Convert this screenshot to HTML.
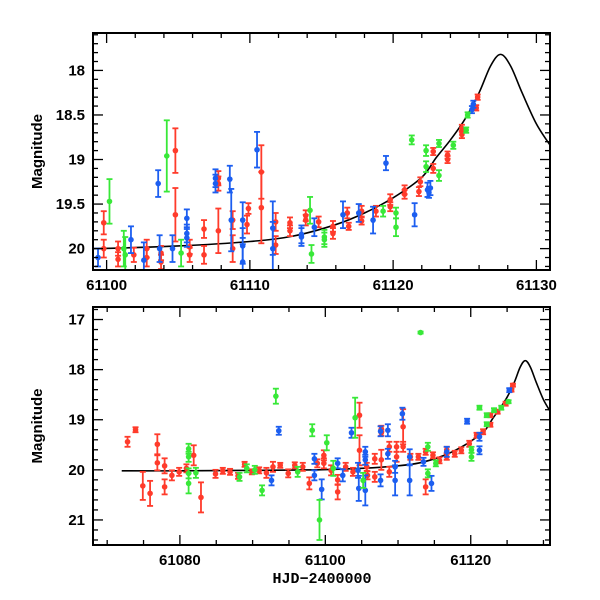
<!DOCTYPE html>
<html><head><meta charset="utf-8"><style>
html,body{margin:0;padding:0;background:#fff;}
svg{display:block;font-family:"Liberation Sans",sans-serif;}
</style></head><body>
<svg id="chart" width="600" height="600" viewBox="0 0 600 600" xmlns="http://www.w3.org/2000/svg"></svg>
<script>
// ---- data ----
const curveDays=[61072,61080,61090,61099,61105,61110,61113,61116,61118,61120,61122,61123,61124,61125,61126,61126.8,61127.5,61128.2,61129,61130,61131];
const curveMags=[20.02,20.02,20.01,20.0,19.97,19.92,19.86,19.73,19.6,19.43,19.2,18.98,18.78,18.55,18.25,17.95,17.82,17.95,18.25,18.6,18.85];

const topRed=[[61099.8,19.71,.13],[61099.8,20.0,.1],[61100.8,20.0,.08],[61100.8,20.12,.08],[61101.9,20.07,.08],[61102.8,20.1,.1],[61102.8,20.0,.1],[61103.8,20.05,.08],[61103.8,20.15,.08],[61104.8,18.9,.25],[61104.8,19.62,.3],[61105.8,19.98,.08],[61105.8,20.07,.08],[61106.8,19.78,.1],[61106.8,20.07,.1],[61107.8,19.8,.25],[61107.8,19.21,.08],[61107.8,19.27,.08],[61108.8,19.68,.1],[61108.8,20.0,.15],[61109.8,19.73,.1],[61109.9,19.55,.06],[61110.8,19.14,.3],[61110.8,19.54,.4],[61111.8,19.7,.1],[61111.8,19.96,.1],[61112.8,19.71,.06],[61112.8,19.8,.06],[61113.9,19.63,.06],[61113.9,19.68,.06],[61114.8,19.7,.06],[61115.8,19.75,.06],[61115.8,19.83,.06],[61116.8,19.6,.06],[61116.9,19.75,.04],[61117.8,19.58,.06],[61117.8,19.69,.04],[61118.8,19.58,.06],[61119.8,19.45,.06],[61119.8,19.53,.05],[61120.8,19.34,.05],[61120.8,19.39,.05],[61121.8,19.36,.05],[61121.9,19.25,.05],[61122.8,18.91,.04],[61122.8,19.1,.05],[61123.8,18.95,.04],[61123.8,19.0,.04],[61124.8,18.65,.04],[61124.8,18.72,.04],[61125.8,18.42,.03],[61125.9,18.3,.03]];
const topBlue=[[61099.4,20.1,.1],[61101.7,19.9,.15],[61102.6,20.13,.2],[61103.6,19.27,.15],[61103.7,20.0,.15],[61104.6,20.0,.15],[61105.6,19.66,.1],[61105.6,19.83,.1],[61105.6,19.88,.1],[61107.6,19.21,.1],[61107.6,19.27,.1],[61108.6,19.22,.15],[61108.7,19.68,.35],[61109.5,19.68,.2],[61109.5,19.97,.2],[61109.5,20.15,.2],[61110.5,18.89,.2],[61111.6,19.77,.3],[61111.6,20.0,.3],[61113.6,19.84,.1],[61113.6,19.87,.1],[61114.5,19.76,.1],[61116.5,19.62,.15],[61117.6,19.6,.1],[61118.6,19.68,.15],[61119.5,19.04,.08],[61121.5,19.62,.13],[61122.4,19.34,.08],[61122.6,19.32,.08],[61122.5,19.37,.06],[61125.5,18.44,.04],[61125.6,18.38,.04]];
const topGreen=[[61100.2,19.47,.25],[61104.2,18.96,.4],[61101.2,20.0,.2],[61101.3,20.07,.2],[61105.2,20.05,.15],[61114.2,19.57,.15],[61114.3,20.06,.1],[61115.2,19.87,.08],[61115.2,19.9,.08],[61119.3,19.58,.06],[61120.2,19.6,.06],[61120.2,19.76,.1],[61121.3,18.78,.05],[61122.3,18.9,.06],[61122.3,19.08,.06],[61123.2,19.18,.06],[61123.2,18.82,.04],[61124.2,18.84,.04],[61125.2,18.5,.03],[61125.1,18.67,.03]];

const botRed=[[61072.8,19.44,.1],[61073.9,19.2,.05],[61074.9,20.32,.28],[61075.9,20.47,.25],[61076.9,19.49,.2],[61076.9,19.86,.15],[61077.9,19.92,.15],[61077.9,20.34,.15],[61078.9,20.11,.1],[61079.9,20.04,.08],[61080.9,19.97,.08],[61081.9,19.71,.2],[61082.9,20.55,.3],[61084.9,20.08,.08],[61085.9,20.02,.06],[61086.9,20.04,.06],[61088.0,20.12,.06],[61088.9,19.89,.05],[61089.9,20.04,.05],[61090.9,20.01,.06],[61091.9,20.06,.1],[61092.8,19.94,.1],[61093.8,19.91,.05],[61094.9,20.07,.08],[61095.8,19.91,.06],[61096.9,19.94,.08],[61097.8,20.27,.12],[61098.9,19.87,.08],[61099.8,19.71,.1],[61099.8,19.87,.1],[61100.8,20.01,.1],[61101.7,20.44,.15],[61101.7,20.2,.1],[61102.8,19.94,.08],[61103.8,20.04,.08],[61104.7,18.91,.25],[61104.7,19.61,.3],[61105.7,19.94,.08],[61105.8,20.11,.08],[61106.8,19.78,.1],[61106.8,20.14,.1],[61107.7,19.18,.06],[61107.7,19.26,.06],[61107.7,19.8,.2],[61108.8,19.54,.1],[61108.8,20.04,.1],[61109.8,19.54,.1],[61109.8,19.74,.1],[61110.7,19.14,.35],[61110.7,19.54,.1],[61111.7,19.74,.06],[61112.8,19.74,.06],[61113.8,20.34,.15],[61113.8,19.64,.06],[61114.8,19.71,.06],[61115.7,19.81,.06],[61116.7,19.74,.06],[61116.7,19.6,.06],[61117.8,19.68,.06],[61118.7,19.61,.06],[61119.8,19.48,.06],[61120.8,19.31,.05],[61121.7,19.24,.05],[61122.7,18.91,.04],[61122.7,19.1,.04],[61123.7,18.84,.04],[61124.8,18.68,.04],[61125.8,18.31,.03],[61125.6,18.41,.03]];
const botBlue=[[61092.6,20.21,.1],[61093.6,19.22,.08],[61098.5,19.78,.1],[61098.5,20.11,.1],[61099.5,20.39,.2],[61101.7,19.87,.1],[61102.4,20.11,.12],[61103.6,19.26,.1],[61104.5,20.01,.15],[61104.6,20.37,.25],[61105.5,19.64,.1],[61105.5,20.41,.3],[61105.5,19.8,.1],[61107.6,19.23,.1],[61107.6,20.21,.12],[61108.6,19.21,.12],[61108.6,19.68,.1],[61109.6,19.94,.12],[61109.6,20.21,.3],[61110.6,18.88,.12],[61111.6,19.74,.15],[61111.6,20.21,.3],[61113.5,19.84,.08],[61114.6,20.27,.15],[61116.7,19.64,.1],[61119.5,19.03,.05],[61121.2,19.61,.08],[61121.2,19.34,.08],[61125.3,18.41,.04]];
const botGreen=[[61081.2,19.58,.1],[61081.2,19.74,.1],[61081.2,20.07,.1],[61081.2,20.27,.2],[61082.2,20.06,.1],[61088.2,20.14,.08],[61089.2,19.97,.08],[61090.3,20.0,.08],[61091.3,20.41,.1],[61093.2,18.53,.15],[61096.2,20.04,.1],[61098.2,19.21,.12],[61100.2,19.46,.15],[61099.2,21.0,.4],[61101.1,19.97,.15],[61104.1,18.96,.4],[61105.2,20.21,.15],[61113.1,17.26,.02],[61114.1,19.54,.08],[61114.1,20.07,.08],[61115.2,19.87,.06],[61120.1,19.74,.08],[61120.1,19.6,.06],[61121.2,18.76,.04],[61122.2,18.91,.04],[61122.2,19.09,.04],[61123.2,18.81,.04],[61124.2,18.76,.04],[61125.2,18.64,.03]];

const topXTicks=[61100,61110,61120,61130];
const topYTicks=[18,18.5,19,19.5,20];
const botXTicks=[61080,61100,61120];
const botYTicks=[17,18,19,20,21];

const COL={red:"#ff3b2b",blue:"#1c5ef0",green:"#38e838"};
const NS="http://www.w3.org/2000/svg";
const svg=document.getElementById('chart');
function mk(tag,attrs,parent){const e=document.createElementNS(NS,tag);for(const k in attrs)e.setAttribute(k,attrs[k]);(parent||svg).appendChild(e);return e;}

function panel(cfg){
  const {x0,x1,y0,y1,d0,d1,m0,m1,name}=cfg;
  const sx=d=>x0+(d-d0)/(d1-d0)*(x1-x0);
  const sy=m=>y0+(m-m0)/(m1-m0)*(y1-y0);
  const g=mk('g',{});
  
  
  const cid='clip-'+name;
  const cp=mk('clipPath',{id:cid},g);mk('rect',{x:x0,y:y0,width:x1-x0,height:y1-y0},cp);
  const plot=mk('g',{'clip-path':'url(#'+cid+')'},g);
  const pts=[];curveDays.forEach((d,i)=>{if(d>=cfg.curveStart)pts.push([sx(d),sy(curveMags[i])]);});
  let path='M'+pts[0][0]+','+pts[0][1];
  for(let i=0;i<pts.length-1;i++){const p0=pts[i-1]||pts[i],p1=pts[i],p2=pts[i+1],p3=pts[i+2]||p2;
    path+=` C${p1[0]+(p2[0]-p0[0])/6},${p1[1]+(p2[1]-p0[1])/6} ${p2[0]-(p3[0]-p1[0])/6},${p2[1]-(p3[1]-p1[1])/6} ${p2[0]},${p2[1]}`;}
  const cv=mk('path',{d:path,fill:'none',stroke:'#000','stroke-width':1.6},plot);
  
  
  [['red',cfg.red],['blue',cfg.blue],['green',cfg.green]].forEach(([c,arr])=>{
    arr.forEach(p=>{
      const x=sx(p[0]),y=sy(p[1]),ya=sy(p[1]-p[2]),yb=sy(p[1]+p[2]);
      const pg=mk('g',{stroke:COL[c],'stroke-width':1.8,fill:COL[c]},plot);
      
      
      mk('line',{x1:x,x2:x,y1:ya,y2:yb},pg);
      mk('line',{x1:x-3,x2:x+3,y1:ya,y2:ya},pg);
      mk('line',{x1:x-3,x2:x+3,y1:yb,y2:yb},pg);
      mk('circle',{cx:x,cy:y,r:2.8,stroke:'none'},pg);
    });
  });
  const fr=mk('rect',{x:x0,y:y0,width:x1-x0,height:y1-y0,fill:'none',stroke:'#000','stroke-width':2},g);
  
  
  for(let d=Math.ceil(d0/cfg.xMinor)*cfg.xMinor;d<=d1;d+=cfg.xMinor){const x=sx(d);const maj=cfg.xt.includes(d);const L=maj?10:5;
    mk('line',{x1:x,x2:x,y1:y1,y2:y1-L,stroke:'#000','stroke-width':1.3},g);mk('line',{x1:x,x2:x,y1:y0,y2:y0+L,stroke:'#000','stroke-width':1.3},g);}
  for(let k=Math.ceil(m0/cfg.yMinor-1e-6);k*cfg.yMinor<=m1+1e-6;k++){const m=k*cfg.yMinor;const y=sy(m);const maj=cfg.yt.some(t=>Math.abs(t-m)<1e-6);const L=maj?10:5;
    mk('line',{x1:x0,x2:x0+L,y1:y,y2:y,stroke:'#000','stroke-width':1.3},g);mk('line',{x1:x1,x2:x1-L,y1:y,y2:y,stroke:'#000','stroke-width':1.3},g);}
  cfg.xt.forEach(t=>{const e=mk('text',{x:sx(t),y:y1+20,'text-anchor':'middle','font-size':15,'font-weight':'bold',fill:'#000'},g);e.textContent=t;
    
    });
  cfg.yt.forEach(t=>{const e=mk('text',{x:x0-8,y:sy(t)+5,'text-anchor':'end','font-size':15,'font-weight':'bold',fill:'#000'},g);e.textContent=t;
    
    });
  const yl=mk('text',{x:0,y:0,transform:`translate(${cfg.ylx},${(y0+y1)/2}) rotate(-90)`,'text-anchor':'middle','font-size':15,'font-weight':'bold',fill:'#000'},g);
  yl.textContent='Magnitude';
  
  
}
panel({name:'top-panel',x0:93,x1:550,y0:33,y1:270,d0:61099.05,d1:61130.95,m0:17.58,m1:20.24,xt:topXTicks,yt:topYTicks,xMinor:2,yMinor:0.1,red:topRed,blue:topBlue,green:topGreen,curveStart:61090,ylx:42});
panel({name:'bottom-panel',x0:93,x1:550,y0:307,y1:545,d0:61068.05,d1:61130.9,m0:16.75,m1:21.5,xt:botXTicks,yt:botYTicks,xMinor:5,yMinor:0.2,red:botRed,blue:botBlue,green:botGreen,curveStart:61072,ylx:42});
const xl=mk('text',{x:322,y:583,'text-anchor':'middle','font-size':15,'font-weight':'bold',fill:'#000','font-family':'Liberation Mono, monospace'});
xl.textContent='HJD−2400000';


</script>
</body></html>
